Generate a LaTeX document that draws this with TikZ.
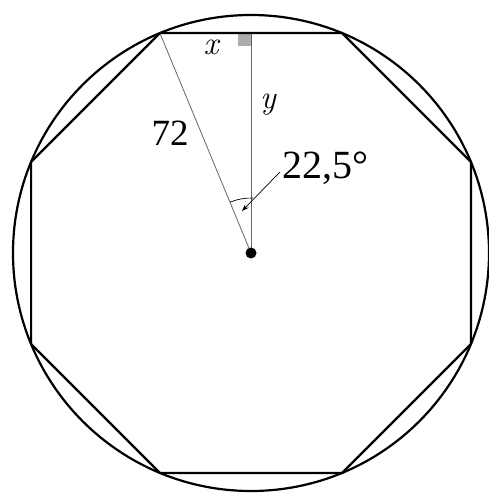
\documentclass[tikz,border=0pt]{standalone}
\usepackage{fontspec}
\newfontfamily\timesfont{Liberation Serif}
\usetikzlibrary{arrows.meta}
\tikzset{
  thick outline/.style={line width=2.2pt, black},
  thin gray/.style={line width=0.8pt, gray!80!black},
  lab/.style={inner sep=0pt, font=\fontsize{37}{40}\selectfont\timesfont},
  anglab/.style={inner sep=0pt, font=\fontsize{40}{44}\selectfont\timesfont},
  mathlab/.style={inner sep=0pt, font=\fontsize{33}{36}\selectfont\itshape},
}
\begin{document}
\begin{tikzpicture}[x=1pt,y=-1pt]
\useasboundingbox (0,0) rectangle (489,495);
\fill[white] (0,0) rectangle (489,495);
\coordinate (O) at (251,253);
\coordinate (A) at (159.9,33.1);
\coordinate (B) at (342.1,33.1);
\coordinate (C) at (470.9,161.9);
\coordinate (D) at (470.9,344.1);
\coordinate (E) at (342.1,472.9);
\coordinate (F) at (159.9,472.9);
\coordinate (G) at (31.1,344.1);
\coordinate (H) at (31.1,161.9);
\coordinate (M) at (251,33.1);
% right-angle marker
\fill[gray!65] (238,34.5) rectangle (250.6,46.5);
% gray lines
\draw[thin gray] (O) -- (A);
\draw[thin gray] (O) -- (M);
% angle arc
\draw[line width=0.7pt, black] (230.0,202.2) arc[start angle=247.5, end angle=272, radius=55];
% circle and octagon
\draw[thick outline] (O) circle[radius=238];
\draw[thick outline, line join=round] (A) -- (B) -- (C) -- (D) -- (E) -- (F) -- (G) -- (H) -- cycle;
% centre dot
\fill (O) circle[radius=5.5];
% labels
\node[mathlab] (lx) at (211,47) {x};
\node[mathlab] (ly) at (268,105) {y};
\node[lab] (l72) at (170,133) {72};
\node[anglab, anchor=west] (lang) at (282,168) {22,5°};
\coordinate (tip) at (242,211);
\draw[line width=0.7pt, -{Stealth[length=7pt,width=5pt]}] ([shift={(-2,4)}]lang.west) -- (tip);
\end{tikzpicture}
\end{document}
